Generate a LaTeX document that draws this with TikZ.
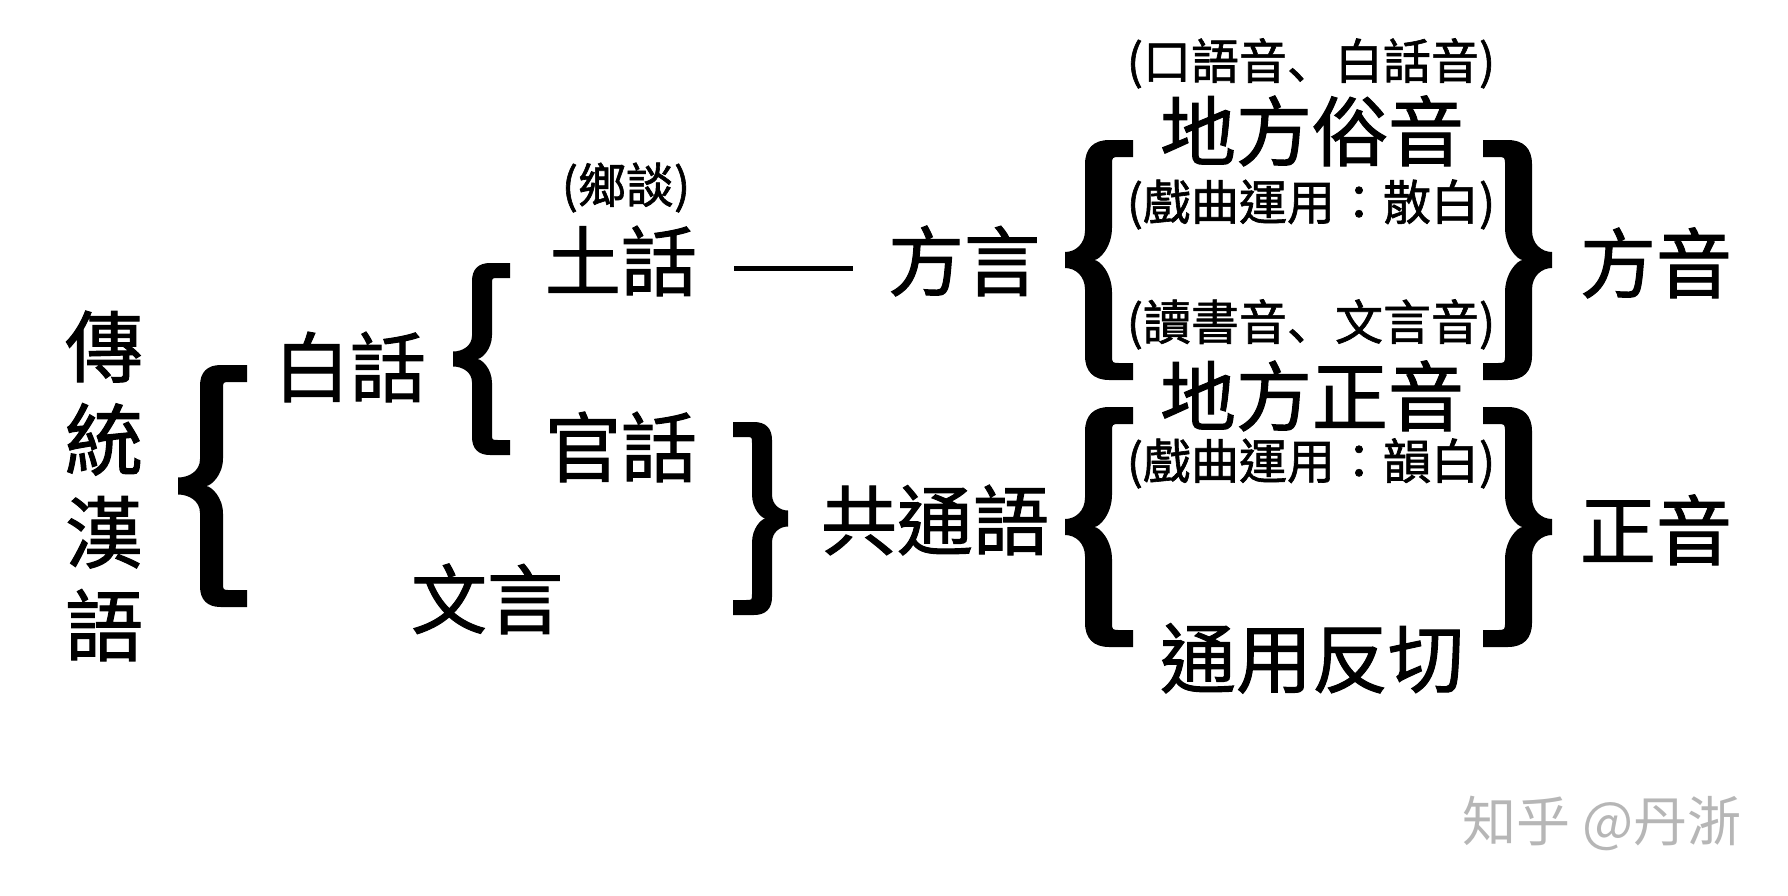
\documentclass[tikz,border=0pt]{standalone}
\usepackage{fontspec}
\newfontfamily\cjk[RawFeature={embolden=1.3}]{Noto Sans CJK TC}
\newfontfamily\cjkjp[RawFeature={embolden=1.3}]{Noto Sans CJK JP}
\newfontfamily\cjkwm{Noto Sans CJK TC}
\newcommand\dun{{\cjkjp 、}}
\definecolor{wm}{RGB}{182,182,182}
\newcommand\bracefill[8]{%
 \pgfmathsetmacro\bTip{#1}%
 \pgfmathsetmacro\bOut{#2}%
 \pgfmathsetmacro\bIn{#3}%
 \pgfmathsetmacro\bEnd{#4}%
 \pgfmathsetmacro\bTop{#5}%
 \pgfmathsetmacro\bBot{#6}%
 \pgfmathsetmacro\bT{#7}%
 \pgfmathsetmacro\bC{#8}%
 \pgfmathsetmacro\bMid{(\bTop+\bBot)/2}%
 \pgfmathsetmacro\bS{(\bIn)-(\bOut)}%
 \pgfmathsetmacro\bR{\bS*0.9}%
 \pgfmathsetmacro\br{\bS*0.3}%
 \pgfmathsetmacro\bK{\bS*0.8}%
 \pgfmathsetmacro\bKK{\bS*1.2}%
 \pgfmathsetmacro\bNotch{(\bTip)+((\bIn)-(\bTip))*0.62}%
 \pgfmathsetmacro\bTipC{(\bTip)+0.5*((\bOut)-(\bTip))}%
 \pgfmathsetmacro\bNotchC{(\bNotch)+0.3*((\bIn)-(\bNotch))}%
 \fill (\bEnd,\bTop) -- (\bOut+\bR,\bTop)
   .. controls (\bOut+0.35*\bR,\bTop) and (\bOut,\bTop+0.35*\bR) .. (\bOut,\bTop+\bR)
   -- (\bOut,\bMid-\bC-\bK)
   .. controls (\bOut,\bMid-\bC-0.35*\bK) and (\bTipC,\bMid-\bC) .. (\bTip,\bMid-\bC)
   -- (\bTip,\bMid+\bC)
   .. controls (\bTipC,\bMid+\bC) and (\bOut,\bMid+\bC+0.35*\bK) .. (\bOut,\bMid+\bC+\bK)
   -- (\bOut,\bBot-\bR)
   .. controls (\bOut,\bBot-0.35*\bR) and (\bOut+0.35*\bR,\bBot) .. (\bOut+\bR,\bBot)
   -- (\bEnd,\bBot) -- (\bEnd,\bBot-\bT) -- (\bIn+\br,\bBot-\bT)
   .. controls (\bIn,\bBot-\bT) .. (\bIn,\bBot-\bT-\br)
   -- (\bIn,\bMid+\bKK)
   .. controls (\bIn,\bMid+0.4*\bKK) and (\bNotchC,\bMid) .. (\bNotch,\bMid)
   .. controls (\bNotchC,\bMid) and (\bIn,\bMid-0.4*\bKK) .. (\bIn,\bMid-\bKK)
   -- (\bIn,\bTop+\bT+\br)
   .. controls (\bIn,\bTop+\bT) .. (\bIn+\br,\bTop+\bT)
   -- (\bEnd,\bTop+\bT) -- cycle;
}
\tikzset{
 lbl/.style={inner sep=0pt, text height=67pt, text depth=9pt, font=\cjk\fontsize{76}{80}\selectfont},
 note/.style={inner sep=0pt, text height=42pt, text depth=6pt, font=\cjk\fontsize{48}{52}\selectfont},
 vert/.style={inner sep=0pt, align=center, font=\cjk\fontsize{78}{93}\selectfont},
 wmark/.style={inner sep=0pt, text height=46pt, text depth=6pt, text=wm, font=\cjkwm\fontsize{54}{58}\selectfont},
 bar/.style={line width=5pt},
}
\begin{document}
\begin{tikzpicture}[x=1pt,y=-1pt]
\fill[white] (0,0) rectangle (1788,895);
\useasboundingbox (0,0) rectangle (1788,895);

% texts
\node[vert] (root) at (104,486) {傳\\統\\漢\\語};
\node[lbl] (baihua) at (350,367) {白話};
\node[note] (xiangtan) at (626,185) {(鄉談)};
\node[lbl] (tuhua) at (621,261) {土話};
\node[lbl] (guanhua) at (621,447) {官話};
\node[lbl] (wenyan) at (487,599) {文言};
\node[lbl] (fangyan) at (964,261) {方言};
\node[lbl] (gongtong) at (935,520) {共通語};
\node[note] (n1) at (1311,61) {(口語音\dun 白話音)};
\node[lbl] (suyin) at (1312,131) {地方俗音};
\node[note] (n2) at (1311,202) {(戲曲運用：散白)};
\node[note] (n3) at (1311,322) {(讀書音\dun 文言音)};
\node[lbl] (zhengyin) at (1312,396) {地方正音};
\node[note] (n4) at (1311,461) {(戲曲運用：韻白)};
\node[lbl] (fanqie) at (1312,658) {通用反切};
\node[lbl] (fangyin) at (1656,263) {方音};
\node[lbl] (zheng) at (1656,530) {正音};
\node[wmark] (wm) at (1602,821) {知乎 @丹浙};

% connector
\draw[bar, shorten <=37pt, shorten >=35pt] ([yshift=-7pt]tuhua.east) -- ([yshift=-7pt]fangyan.west);

% braces
\bracefill{178}{200}{223}{247}{365}{607}{17}{8.5}
\bracefill{453}{472}{492}{510}{263}{455}{15}{7.5}
\begin{scope}[xscale=-1]
\bracefill{-788}{-772}{-752}{-733}{422}{615}{15}{8}
\end{scope}
\bracefill{1065}{1085}{1112}{1133}{140}{380}{17}{8}
\bracefill{1065}{1085}{1112}{1133}{407}{647}{17}{8}
\begin{scope}[xscale=-1]
\bracefill{-1552}{-1532}{-1505}{-1483}{140}{380}{17}{8}
\bracefill{-1552}{-1532}{-1505}{-1483}{407}{647}{17}{8}
\end{scope}
\end{tikzpicture}
\end{document}
